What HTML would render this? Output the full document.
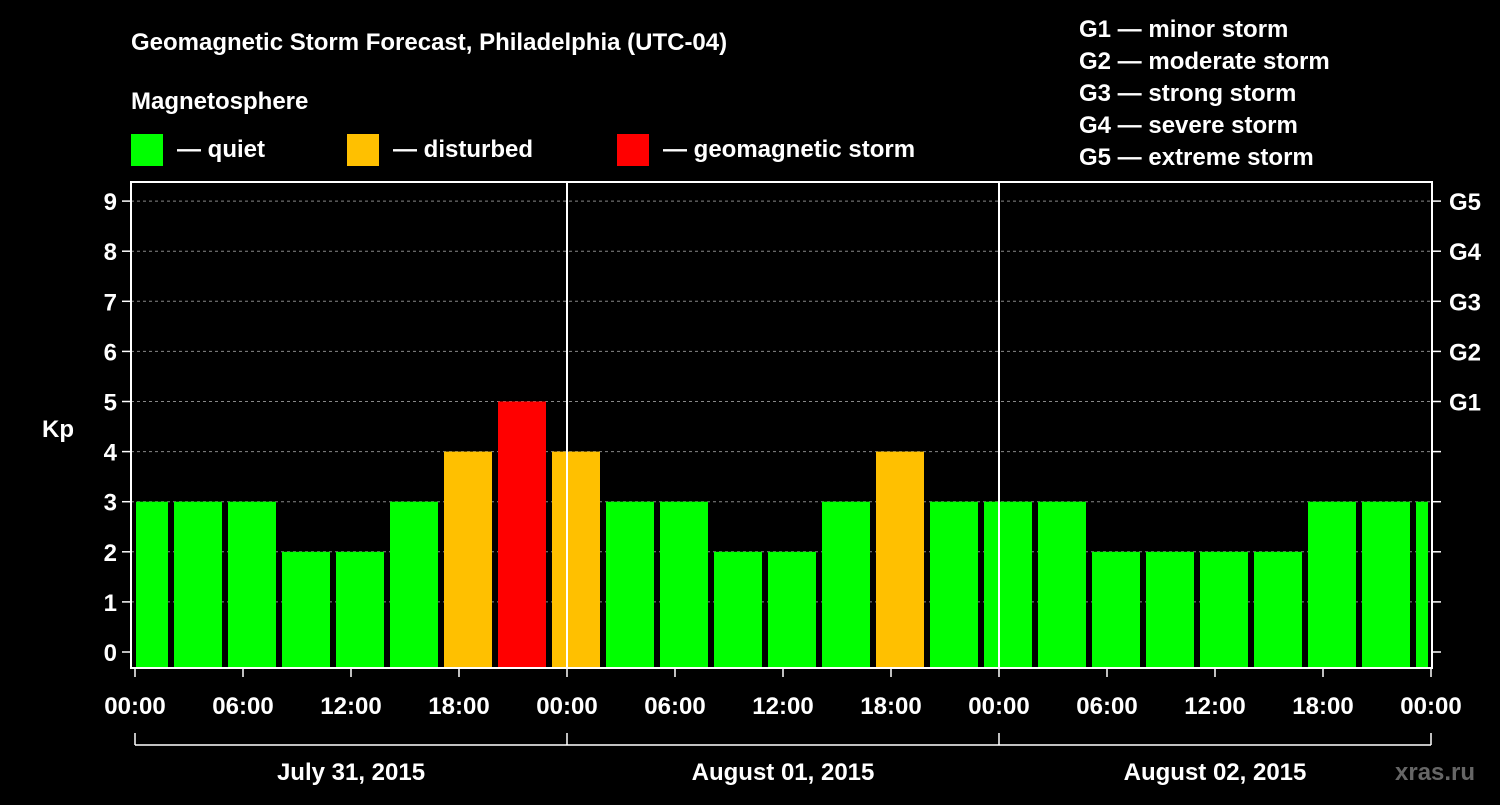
<!DOCTYPE html>
<html><head><meta charset="utf-8"><style>
body{margin:0;background:#000;width:1500px;height:800px;overflow:hidden}
text{font-family:"Liberation Sans",Arial,sans-serif;font-weight:bold;fill:#fff}
</style></head><body>
<svg id="chart" width="1500" height="800" xmlns="http://www.w3.org/2000/svg">
<rect width="1500" height="800" fill="#000"/>
<text x="131" y="50" font-size="24">Geomagnetic Storm Forecast, Philadelphia (UTC-04)</text>
<text x="131" y="109" font-size="24">Magnetosphere</text>
<g><rect x="131" y="134" width="32" height="32" fill="#00ff00"/><text x="177" y="157" font-size="24">— quiet</text></g>
<g><rect x="347" y="134" width="32" height="32" fill="#ffc000"/><text x="393" y="157" font-size="24">— disturbed</text></g>
<g><rect x="617" y="134" width="32" height="32" fill="#ff0000"/><text x="663" y="157" font-size="24">— geomagnetic storm</text></g>
<g font-size="24">
<text x="1079" y="37">G1 — minor storm</text>
<text x="1079" y="69">G2 — moderate storm</text>
<text x="1079" y="101">G3 — strong storm</text>
<text x="1079" y="133">G4 — severe storm</text>
<text x="1079" y="165">G5 — extreme storm</text>
</g>
<text x="42" y="437" font-size="24">Kp</text>
<text x="1395" y="780" font-size="24" fill="#555" style="fill:#666">xras.ru</text>
<g id="grid"></g><g id="bars"></g><g id="axes"></g>
</svg>
<script>
const kpValues=[3,3,3,2,2,3,4,5,4,3,3,2,2,3,4,3,3,3,2,2,2,2,3,3,3];
const yTicks=[0,1,2,3,4,5,6,7,8,9];
const gLabels=["G1","G2","G3","G4","G5"];
const xTickLabels=["00:00","06:00","12:00","18:00","00:00","06:00","12:00","18:00","00:00","06:00","12:00","18:00","00:00"];
const dayLabels=["July 31, 2015","August 01, 2015","August 02, 2015"];
const NS="http://www.w3.org/2000/svg";
const X0=135,PXH=18,L=131,R=1432,T=182,B=668;
const x=h=>X0+h*PXH;
const y=k=>652-k*50.1;
function mk(tag,attrs,parent,txt){const e=document.createElementNS(NS,tag);for(const k in attrs)e.setAttribute(k,attrs[k]);if(txt!==undefined)e.textContent=txt;document.getElementById(parent).appendChild(e);return e;}
// clip
const defs=document.createElementNS(NS,'defs');defs.innerHTML='<clipPath id="pc"><rect x="136" y="'+T+'" width="'+(R-136-4)+'" height="'+(B-T)+'"/></clipPath>';document.getElementById('chart').appendChild(defs);
document.getElementById('bars').setAttribute('clip-path','url(#pc)');
yTicks.forEach(k=>{
 if(k>0&&k<=9){const g=mk('line',{x1:L,x2:R,y1:y(k),y2:y(k),stroke:'#888','stroke-dasharray':'3,3','stroke-width':1},'grid');
 
 }
 const t=mk('line',{x1:L-9,x2:L,y1:y(k),y2:y(k),stroke:'#fff','stroke-width':1.5},'axes');
 
 
 const t2=mk('line',{x1:R,x2:R+9,y1:y(k),y2:y(k),stroke:'#fff','stroke-width':1.5},'axes');
 
 
 const lb=mk('text',{x:L-14,y:y(k)+9,'font-size':24,'text-anchor':'end'},'axes',String(k));
 
 
});
gLabels.forEach((g,i)=>{
 const lb=mk('text',{x:R+17,y:y(5+i)+9,'font-size':24},'axes',g);
 
 
});
kpValues.forEach((v,i)=>{
 const c=x(i*3+0.5);
 const col=v>=5?'#ff0000':(v>=4?'#ffc000':'#00ff00');
 const b=mk('rect',{x:c-24,y:y(v),width:48,height:B-y(v),fill:col},'bars');
 
 
});
[24,48].forEach(h=>{const l=mk('line',{x1:x(h),x2:x(h),y1:T,y2:B,stroke:'#fff','stroke-width':2},'axes');
 
 });
const fr=mk('rect',{x:L,y:T,width:R-L,height:B-T,fill:'none',stroke:'#fff','stroke-width':2},'axes');


xTickLabels.forEach((s,i)=>{
 const xx=x(i*6);
 const t=mk('line',{x1:xx,x2:xx,y1:B,y2:B+9,stroke:'#fff','stroke-width':1.5},'axes');
 
 
 const lb=mk('text',{x:xx,y:714,'font-size':24,'text-anchor':'middle'},'axes',s);
 
 
});
const br=mk('line',{x1:x(0),x2:x(72),y1:745,y2:745,stroke:'#fff','stroke-width':1.5},'axes');


[0,24,48,72].forEach(h=>{const t=mk('line',{x1:x(h),x2:x(h),y1:733,y2:745,stroke:'#fff','stroke-width':1.5},'axes');
 
 });
dayLabels.forEach((d,i)=>{
 const lb=mk('text',{x:x(i*24+12),y:780,'font-size':24,'text-anchor':'middle'},'axes',d);
 
 
});
</script>
</body></html>
